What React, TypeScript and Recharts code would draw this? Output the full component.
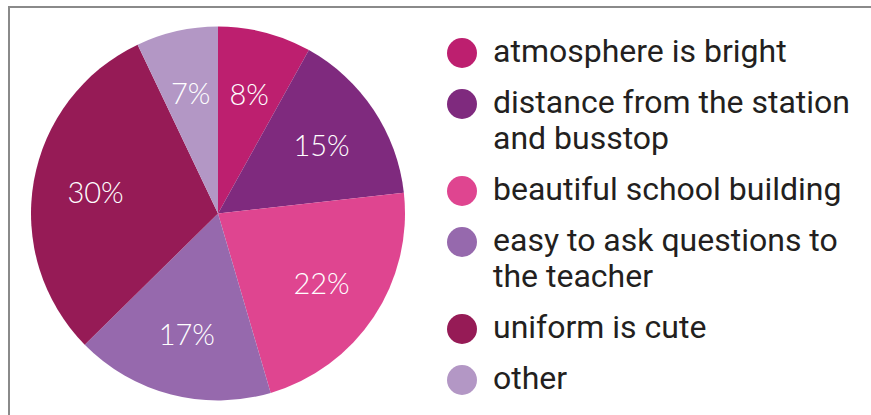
import React from "react";
import { PieChart, Pie, Cell, Legend } from "recharts";

const categories = [
  "atmosphere is bright",
  "distance from the station and busstop",
  "beautiful school building",
  "easy to ask questions to the teacher",
  "uniform is cute",
  "other",
];
const percents = [8, 15, 22, 17, 30, 7];
const colors = ["#bd1f6f", "#7f2a7e", "#df4590", "#9669ad", "#961b56", "#b397c5"];

const data = categories.map((name, i) => ({ name, value: percents[i], color: colors[i] }));

const RAD = Math.PI / 180;

const renderLabel = (props: any) => {
  const { cx, cy, midAngle, outerRadius, value } = props;
  const r = outerRadius * 0.665;
  const x = cx + r * Math.cos(-midAngle * RAD);
  const y = cy + r * Math.sin(-midAngle * RAD);
  return (
    <text
      x={x}
      y={y}
      fill="#ffffff"
      textAnchor="middle"
      dominantBaseline="central"
      style={{ fontFamily: "Lato, 'Open Sans', sans-serif", fontWeight: 300, fontSize: 29 }}
    >
      {`${value}%`}
    </text>
  );
};

const renderLegend = (props: any) => {
  const payload = [...(props.payload || [])].sort(
    (a: any, b: any) => categories.indexOf(a.value) - categories.indexOf(b.value)
  );
  return (
    <div style={{ display: "flex", flexDirection: "column" }}>
      {payload.map((entry: any, i: number) => (
        <div
          key={i}
          style={{
            display: "flex",
            alignItems: "flex-start",
            marginBottom: 15,
          }}
        >
          <div
            style={{
              width: 30,
              height: 30,
              borderRadius: 15,
              background: entry.color,
              marginTop: 5,
              flex: "0 0 auto",
            }}
          />
          <div
            style={{
              marginLeft: 16,
              width: 358,
              fontFamily: "Roboto, 'Noto Sans', sans-serif",
              fontSize: 32,
              lineHeight: "36px",
              color: "#231f20",
            }}
          >
            {entry.value}
          </div>
        </div>
      ))}
    </div>
  );
};

export default function App() {
  return (
    <div style={{ position: "absolute", left: 0, top: 0, width: 871, height: 415, background: "#fff", overflow: "hidden" }}>
      <div
        style={{
          position: "absolute",
          left: 8,
          top: 6,
          width: 880,
          height: 420,
          borderTop: "2px solid #8a8a8a",
          borderLeft: "2px solid #8a8a8a",
        }}
      />
      <div style={{ position: "absolute", left: 0, top: 0 }}>
        <PieChart width={871} height={415} margin={{ top: 0, right: 0, bottom: 0, left: 0 }}>
          <Pie
            data={data}
            dataKey="value"
            nameKey="name"
            cx={218}
            cy={213.5}
            outerRadius={187}
            startAngle={90}
            endAngle={-270}
            stroke="none"
            label={renderLabel}
            labelLine={false}
            isAnimationActive={false}
          >
            {data.map((d, i) => (
              <Cell key={i} fill={d.color} />
            ))}
          </Pie>
          <Legend
            layout="vertical"
            align="right"
            verticalAlign="top"
            content={renderLegend}
            wrapperStyle={{ left: 447, top: 33, width: 420 }}
          />
        </PieChart>
      </div>
    </div>
  );
}
